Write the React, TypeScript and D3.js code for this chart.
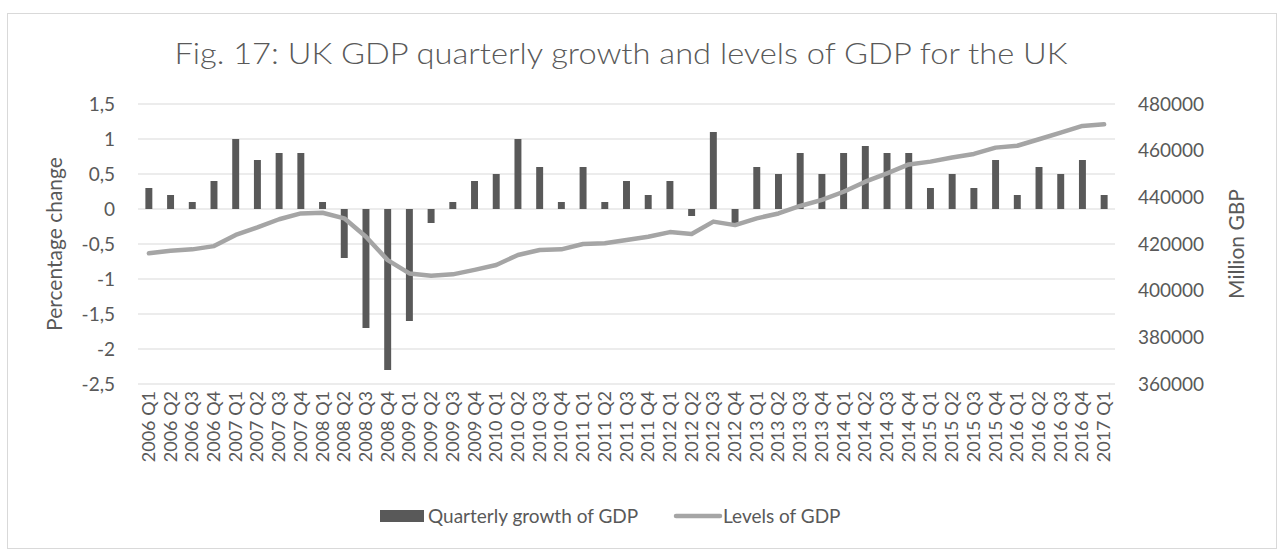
import React from "react";
import * as d3 from "d3";

const categories: string[] = [
  "2006 Q1","2006 Q2","2006 Q3","2006 Q4",
  "2007 Q1","2007 Q2","2007 Q3","2007 Q4",
  "2008 Q1","2008 Q2","2008 Q3","2008 Q4",
  "2009 Q1","2009 Q2","2009 Q3","2009 Q4",
  "2010 Q1","2010 Q2","2010 Q3","2010 Q4",
  "2011 Q1","2011 Q2","2011 Q3","2011 Q4",
  "2012 Q1","2012 Q2","2012 Q3","2012 Q4",
  "2013 Q1","2013 Q2","2013 Q3","2013 Q4",
  "2014 Q1","2014 Q2","2014 Q3","2014 Q4",
  "2015 Q1","2015 Q2","2015 Q3","2015 Q4",
  "2016 Q1","2016 Q2","2016 Q3","2016 Q4",
  "2017 Q1",
];

const growth: number[] = [
  0.3, 0.2, 0.1, 0.4,
  1.0, 0.7, 0.8, 0.8,
  0.1, -0.7, -1.7, -2.3,
  -1.6, -0.2, 0.1, 0.4,
  0.5, 1.0, 0.6, 0.1,
  0.6, 0.1, 0.4, 0.2,
  0.4, -0.1, 1.1, -0.2,
  0.6, 0.5, 0.8, 0.5,
  0.8, 0.9, 0.8, 0.8,
  0.3, 0.5, 0.3, 0.7,
  0.2, 0.6, 0.5, 0.7,
  0.2,
];

const levels: number[] = [
  416000, 417100, 417700, 419100,
  423900, 427100, 430600, 433100,
  433400, 431000, 423100, 413100,
  407400, 406400, 407000, 408900,
  411000, 415300, 417400, 417700,
  420000, 420300, 421700, 423100,
  425100, 424300, 429600, 428100,
  431000, 433100, 436300, 438900,
  442400, 446700, 450300, 454100,
  455300, 457100, 458600, 461300,
  462100, 464900, 467700, 470600,
  471300,
];

const leftTicks: number[] = [-2.5, -2, -1.5, -1, -0.5, 0, 0.5, 1, 1.5];
const rightTicks: number[] = [360000, 380000, 400000, 420000, 440000, 460000, 480000];

const title = "Fig. 17: UK GDP quarterly growth and levels of GDP for the UK";
const leftTitle = "Percentage change";
const rightTitle = "Million GBP";
const seriesNames: string[] = ["Quarterly growth of GDP", "Levels of GDP"];

const FONT = "Lato, 'Open Sans', sans-serif";
const TEXT = "#595959";

export default function App() {
  const W = 1284, H = 555;
  const x0 = 138, x1 = 1115, yTop = 104, yBot = 384;
  const x = d3.scaleBand<string>().domain(categories).range([x0, x1]).padding(0);
  const yL = d3.scaleLinear().domain([-2.5, 1.5]).range([yBot, yTop]);
  const yR = d3.scaleLinear().domain([360000, 480000]).range([yBot, yTop]);
  const bw = x.bandwidth() * 0.32;
  const cx = (c: string) => (x(c) as number) + x.bandwidth() / 2;

  const line = d3.line<number>()
    .x((_, i) => cx(categories[i]))
    .y((d) => yR(d))
    .curve(d3.curveLinear);

  const fmt = (v: number) => String(v).replace(".", ",");

  return (
    <svg width={W} height={H} style={{ position: "absolute", left: 0, top: 0, background: "#fff" }}>
      <rect x={7.5} y={13.5} width={1269} height={535} fill="#fff" stroke="#d9d9d9" strokeWidth={1} />
      <text x={621} y={64} textAnchor="middle" fontFamily={FONT} fontWeight={300} fontSize={30} fill={TEXT}
        textLength={893} lengthAdjust="spacingAndGlyphs">{title}</text>

      {leftTicks.map((t) => (
        <line key={"g" + t} x1={x0} x2={x1} y1={yL(t)} y2={yL(t)} stroke="#d9d9d9" strokeWidth={1.2} />
      ))}
      {leftTicks.map((t) => (
        <text key={"l" + t} x={115} y={yL(t)} dy="0.35em" textAnchor="end" fontFamily={FONT} fontSize={19} fill={TEXT}>{fmt(t)}</text>
      ))}
      {rightTicks.map((t) => (
        <text key={"r" + t} x={1138} y={yR(t)} dy="0.35em" textAnchor="start" fontFamily={FONT} fontSize={19} fill={TEXT}>{t}</text>
      ))}
      <text transform={`translate(62,244) rotate(-90)`} textAnchor="middle" fontFamily={FONT} fontSize={21} fill={TEXT}>{leftTitle}</text>
      <text transform={`translate(1244,244) rotate(-90)`} textAnchor="middle" fontFamily={FONT} fontSize={21} fill={TEXT}>{rightTitle}</text>

      {growth.map((v, i) => {
        const c = categories[i];
        const y0 = yL(0), yv = yL(v);
        return <rect key={"b" + i} x={cx(c) - bw / 2} width={bw} y={Math.min(y0, yv)} height={Math.abs(yv - y0)} fill="#595959" />;
      })}

      <path d={line(levels) || ""} fill="none" stroke="#a5a5a5" strokeWidth={4.5} strokeLinejoin="round" strokeLinecap="round" />

      {categories.map((c) => (
        <text key={"x" + c} transform={`translate(${cx(c) + 6},391) rotate(-90)`} textAnchor="end" fontFamily={FONT} fontSize={18} fill={TEXT}>{c}</text>
      ))}

      <rect x={380} y={510} width={44} height={12} fill="#595959" />
      <text x={428} y={523} fontFamily={FONT} fontSize={19} fill={TEXT}>{seriesNames[0]}</text>
      <line x1={676} x2={720} y1={516} y2={516} stroke="#a5a5a5" strokeWidth={4.5} strokeLinecap="round" />
      <text x={723} y={523} fontFamily={FONT} fontSize={19} fill={TEXT}>{seriesNames[1]}</text>
    </svg>
  );
}
